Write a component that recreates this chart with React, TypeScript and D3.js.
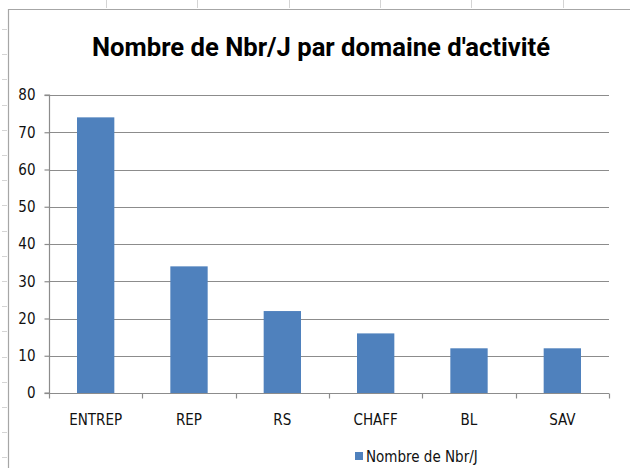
import React, { useEffect, useRef } from 'react';
import * as d3 from 'd3';

const categories = ['ENTREP', 'REP', 'RS', 'CHAFF', 'BL', 'SAV'];
const nbrParJour = [74, 34, 22, 16, 12, 12];
const yTicks = [0, 10, 20, 30, 40, 50, 60, 70, 80];
const chartTitle = "Nombre de Nbr/J par domaine d'activité";
const seriesName = 'Nombre de Nbr/J';

const barColor = '#4f81bd';
const gridColor = '#8c8c8c';
const labelFont = '"DejaVu Sans Condensed", Roboto, sans-serif';

const App: React.FC = () => {
  const svgRef = useRef<SVGSVGElement | null>(null);

  useEffect(() => {
    if (!svgRef.current) return;
    const svg = d3.select(svgRef.current);
    svg.selectAll('*').remove();

    const width = 630;
    const height = 468;
    const margin = { top: 95, right: 21, bottom: 75, left: 49 };

    svg.append('rect').attr('width', width).attr('height', height).attr('fill', '#fff');

    // spreadsheet cells peeking out behind the chart object
    const bg = svg.append('g').attr('stroke', '#d4d4d4').attr('stroke-width', 1);
    d3.range(29, height, 25.2).forEach((y) => {
      bg.append('line').attr('x1', 2).attr('x2', 7).attr('y1', Math.round(y) + 0.5).attr('y2', Math.round(y) + 0.5);
    });
    d3.range(106, width, 91.3).forEach((x) => {
      bg.append('line').attr('x1', Math.round(x) + 0.5).attr('x2', Math.round(x) + 0.5).attr('y1', 0).attr('y2', 8);
    });

    // chart frame
    svg.append('path')
      .attr('d', `M8.5,${height} V9.5 H${width}`)
      .attr('fill', 'none')
      .attr('stroke', '#a6a6a6')
      .attr('stroke-width', 1.2);

    const x = d3.scaleBand()
      .domain(categories)
      .range([margin.left, width - margin.right])
      .paddingInner(0.6)
      .paddingOuter(0.3);

    const y = d3.scaleLinear()
      .domain([0, 80])
      .range([height - margin.bottom, margin.top]);

    // horizontal grid lines
    svg.append('g')
      .selectAll('line')
      .data(yTicks.filter((d) => d > 0))
      .enter().append('line')
      .attr('x1', margin.left)
      .attr('x2', width - margin.right)
      .attr('y1', (d) => Math.round(y(d)) + 0.5)
      .attr('y2', (d) => Math.round(y(d)) + 0.5)
      .attr('stroke', gridColor)
      .attr('stroke-width', 1.2);

    // bars
    svg.append('g')
      .selectAll('rect')
      .data(nbrParJour)
      .enter().append('rect')
      .attr('x', (d, i) => x(categories[i]) ?? 0)
      .attr('y', (d) => y(d))
      .attr('width', x.bandwidth())
      .attr('height', (d) => y(0) - y(d))
      .attr('fill', barColor);

    // y axis
    const yAxis = svg.append('g')
      .attr('transform', `translate(${margin.left + 0.5},0)`)
      .call(d3.axisLeft(y).tickValues(yTicks).tickSize(5).tickPadding(9));
    yAxis.selectAll('line, path').attr('stroke', gridColor).attr('stroke-width', 1.2);
    yAxis.select('.domain').attr('d', `M-5,${y(80)}H0V${y(0)}H-5`);
    yAxis.selectAll('text')
      .attr('font-family', labelFont)
      .attr('font-size', 15)
      .attr('fill', '#111');

    // x axis with ticks on category boundaries
    const y0 = Math.round(y(0)) + 0.5;
    const step = x.step();
    const x0 = margin.left;
    const xAxis = svg.append('g');
    xAxis.append('line')
      .attr('x1', x0).attr('x2', width - margin.right)
      .attr('y1', y0).attr('y2', y0)
      .attr('stroke', gridColor).attr('stroke-width', 1.2);
    xAxis.selectAll('line.tick')
      .data(d3.range(categories.length + 1))
      .enter().append('line')
      .attr('class', 'tick')
      .attr('x1', (i) => Math.round(x0 + i * step) + 0.5)
      .attr('x2', (i) => Math.round(x0 + i * step) + 0.5)
      .attr('y1', y0).attr('y2', y0 + 5)
      .attr('stroke', gridColor).attr('stroke-width', 1.2);
    xAxis.selectAll('text')
      .data(categories)
      .enter().append('text')
      .attr('x', (d) => (x(d) ?? 0) + x.bandwidth() / 2)
      .attr('y', 425)
      .attr('text-anchor', 'middle')
      .attr('font-family', labelFont)
      .attr('font-size', 15)
      .attr('fill', '#111')
      .text((d) => d);

    // title
    svg.append('text')
      .attr('x', 92)
      .attr('y', 56)
      .attr('font-family', 'Roboto, "Open Sans", sans-serif')
      .attr('font-weight', 'bold')
      .attr('font-size', 26)
      .attr('textLength', 458)
      .attr('lengthAdjust', 'spacingAndGlyphs')
      .attr('fill', '#000')
      .text(chartTitle);

    // legend
    const legend = svg.append('g');
    legend.append('rect')
      .attr('x', 355).attr('y', 452)
      .attr('width', 8).attr('height', 8)
      .attr('fill', barColor);
    legend.append('text')
      .attr('x', 366)
      .attr('y', 462)
      .attr('font-family', labelFont)
      .attr('font-size', 15)
      .attr('fill', '#111')
      .text(seriesName);
  }, []);

  return (
    <div style={{ position: 'absolute', left: 0, top: 0 }}>
      <svg ref={svgRef} width={630} height={468} style={{ display: 'block' }}></svg>
    </div>
  );
};

export default App;
